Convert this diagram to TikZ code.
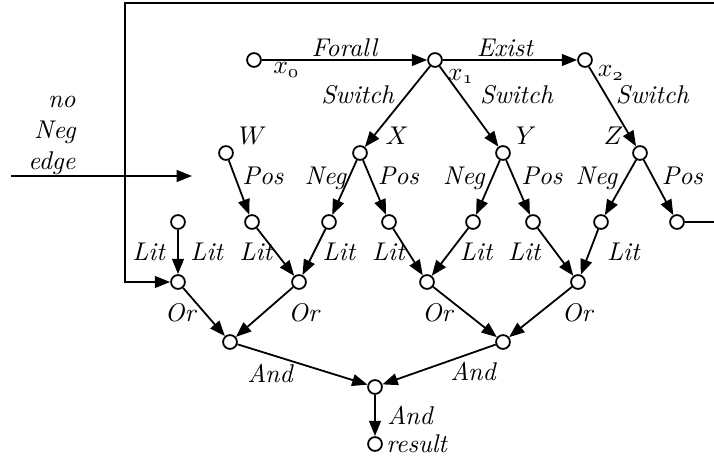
\documentclass[tikz,border=0pt]{standalone}
\usepackage{amsmath}
\usetikzlibrary{arrows.meta}

\begin{document}
\begin{tikzpicture}[x=0.39pt, y=-0.39pt, >={Triangle[length=6pt,width=4.6pt]}, line width=0.7pt,
        vtx/.style={circle, draw, minimum size=5.4pt, inner sep=0pt},
        lbl/.style={font=\itshape, inner sep=1pt, text depth=0pt},
        arr/.style={->}]

        % Frame of the picture
        \useasboundingbox (0,0) rectangle (714,458);
        \clip (0,0) rectangle (714,458);

        % Quantifier nodes
        \node[vtx, label={[lbl, xshift=4pt, yshift=2.5pt]below right:$x_{\mathnormal{0}}$}] (x0) at (254,60) {};
        \node[vtx, label={[lbl, xshift=1.5pt]below right:$x_{\mathnormal{1}}$}] (x1) at (435,60) {};
        \node[vtx, label={[lbl, xshift=1.5pt, yshift=1.5pt]below right:$x_{\mathnormal{2}}$}] (x2) at (585,60) {};

        % Variable nodes
        \node[vtx, label={[lbl, xshift=1.5pt]above right:$W$}] (W) at (226,153) {};
        \node[vtx, label={[lbl, xshift=6.5pt]above right:$X$}] (X) at (360,153) {};
        \node[vtx, label={[lbl, xshift=1.5pt]above right:$Y$}] (Y) at (503,153) {};
        \node[vtx, label={[lbl, xshift=-3pt]above left:$Z$}] (Z) at (640,153) {};

        % Literal nodes
        \node[vtx] (leaf) at (178,222) {};
        \node[vtx] (Wp) at (252,222) {};
        \node[vtx] (Xn) at (329,222) {};
        \node[vtx] (Xp) at (389,222) {};
        \node[vtx] (Yn) at (473,222) {};
        \node[vtx] (Yp) at (533,222) {};
        \node[vtx] (Zn) at (601,222) {};
        \node[vtx] (Zp) at (677,222) {};

        % Or nodes
        \node[vtx] (or1) at (178,282) {};
        \node[vtx] (or2) at (299,282) {};
        \node[vtx] (or3) at (427,282) {};
        \node[vtx] (or4) at (578,282) {};

        % And nodes
        \node[vtx] (and1) at (230,342) {};
        \node[vtx] (and2) at (503,342) {};
        \node[vtx] (root) at (375,387) {};
        \node[vtx, label={[lbl]right:result}] (result) at (375,444) {};

        % Side note
        \node[lbl, align=right, anchor=east] (noneg) at (79,133) {no\\Neg\\edge};
        \coordinate (nnA) at (11,176);
        \coordinate (nnB) at (192,176);
        \draw[arr] (nnA) -- (nnB);

        % Quantifier edges
        \draw[arr] (x0) -- node[lbl, above] {Forall} (x1);
        \draw[arr] (x1) -- node[lbl, above, xshift=-2pt] {Exist} (x2);
        \draw[arr] (x1) -- node[lbl, above left] {Switch} (X);
        \draw[arr] (x1) -- node[lbl, above right, xshift=3pt] {Switch} (Y);
        \draw[arr] (x2) -- node[lbl, above right] {Switch} (Z);

        % Pos and Neg edges
        \draw[arr] (W) -- node[lbl, above right] {Pos} (Wp);
        \draw[arr] (X) -- node[lbl, above left, xshift=2pt] {Neg} (Xn);
        \draw[arr] (X) -- node[lbl, above right] {Pos} (Xp);
        \draw[arr] (Y) -- node[lbl, above left] {Neg} (Yn);
        \draw[arr] (Y) -- node[lbl, above right] {Pos} (Yp);
        \draw[arr] (Z) -- node[lbl, above left] {Neg} (Zn);
        \draw[arr] (Z) -- node[lbl, above right] {Pos} (Zp);

        % Lit edges
        \draw[arr] (leaf) -- node[lbl, right=3.5pt] {Lit} (or1);
        \draw[arr] (Wp) -- node[lbl, left] {Lit} (or2);
        \draw[arr] (Xn) -- node[lbl, right=2pt] {Lit} (or2);
        \draw[arr] (Xp) -- node[lbl, left] {Lit} (or3);
        \draw[arr] (Yn) -- node[lbl, right=2.5pt] {Lit} (or3);
        \draw[arr] (Yp) -- node[lbl, left=4.5pt] {Lit} (or4);
        \draw[arr] (Zn) -- node[lbl, right=5.5pt] {Lit} (or4);

        % Loop back from the last literal
        \coordinate (c1) at (722,222);
        \coordinate (c2) at (722,3);
        \coordinate (c3) at (125,3);
        \coordinate (c4) at (125,282);
        \draw[arr] (Zp) -- (c1) -- (c2) -- (c3) -- node[lbl, pos=0.89, right=1.5pt] {Lit} (c4) -- (or1);

        % Or edges
        \draw[arr] (or1) -- node[lbl, left=2pt] {Or} (and1);
        \draw[arr] (or2) -- node[lbl, right=8pt] {Or} (and1);
        \draw[arr] (or3) -- node[lbl, left=3.5pt] {Or} (and2);
        \draw[arr] (or4) -- node[lbl, right=7pt] {Or} (and2);

        % And edges
        \draw[arr] (and1) -- node[lbl, pos=0.25, below=2.5pt] {And} (root);
        \draw[arr] (and2) -- node[lbl, pos=0.2, below=2.5pt] {And} (root);
        \draw[arr] (root) -- node[lbl, right=3.5pt] {And} (result);
\end{tikzpicture}
\end{document}
